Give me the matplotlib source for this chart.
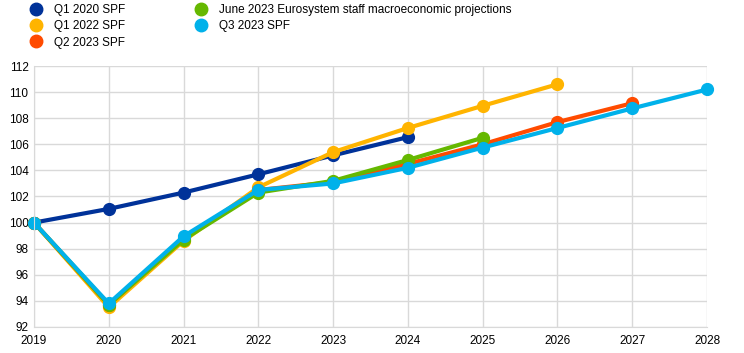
import matplotlib.pyplot as plt
from matplotlib.lines import Line2D

plt.rcParams['font.family'] = ['Liberation Sans', 'DejaVu Sans']

# Data
years = [2019, 2020, 2021, 2022, 2023, 2024, 2025, 2026, 2027, 2028]

q1_2020 = [100, 101.05, 102.3, 103.7, 105.15, 106.55]
q1_2022 = [100, 93.5, 98.6, 102.7, 105.4, 107.25, 108.95, 110.6]
q2_2023 = [100, 93.7, 98.8, 102.5, 103.1, 104.5, 106.0, 107.7, 109.15]
june_2023 = [100, 93.7, 98.7, 102.3, 103.2, 104.8, 106.5]
q3_2023 = [100, 93.8, 98.95, 102.5, 103.0, 104.2, 105.75, 107.25, 108.75, 110.2]

labels = ['Q1 2020 SPF', 'Q1 2022 SPF', 'Q2 2023 SPF',
          'June 2023 Eurosystem staff macroeconomic projections', 'Q3 2023 SPF']
colors = ['#003299', '#ffb400', '#ff4b00', '#65b800', '#00b1ea']
series = [q1_2020, q1_2022, q2_2023, june_2023, q3_2023]

fig = plt.figure(figsize=(7.44, 3.53), dpi=100)
ax = fig.add_axes([0.0457, 0.0737, 0.9046, 0.7393])

for vals, col, lab in zip(series, colors, labels):
    ax.plot(years[:len(vals)], vals, color=col, lw=3, marker='o', ms=8.5,
            solid_capstyle='round', label=lab, clip_on=False)

ax.set_xlim(2019, 2028)
ax.set_ylim(92, 112)
ax.set_xticks(years)
ax.set_yticks(range(92, 113, 2))
ax.grid(True, color='#d9d9d9', lw=1)
ax.set_axisbelow(True)
ax.tick_params(length=0, labelsize=8.5, pad=6)
ax.tick_params(axis='y', pad=4)
for s in ['top', 'right']:
    ax.spines[s].set_visible(False)
for s in ['left', 'bottom']:
    ax.spines[s].set_color('#d9d9d9')

# legend: markers only
handles = [Line2D([], [], ls='', marker='o', ms=9, color=c) for c in colors]
fig.legend(handles, labels,
           loc='upper left', bbox_to_anchor=(0.024, 1.018), ncol=2,
           frameon=False, fontsize=8.5, handletextpad=0.95,
           columnspacing=5.8, labelspacing=0.35, handlelength=1.2)

fig.savefig('out.png', dpi=100)
